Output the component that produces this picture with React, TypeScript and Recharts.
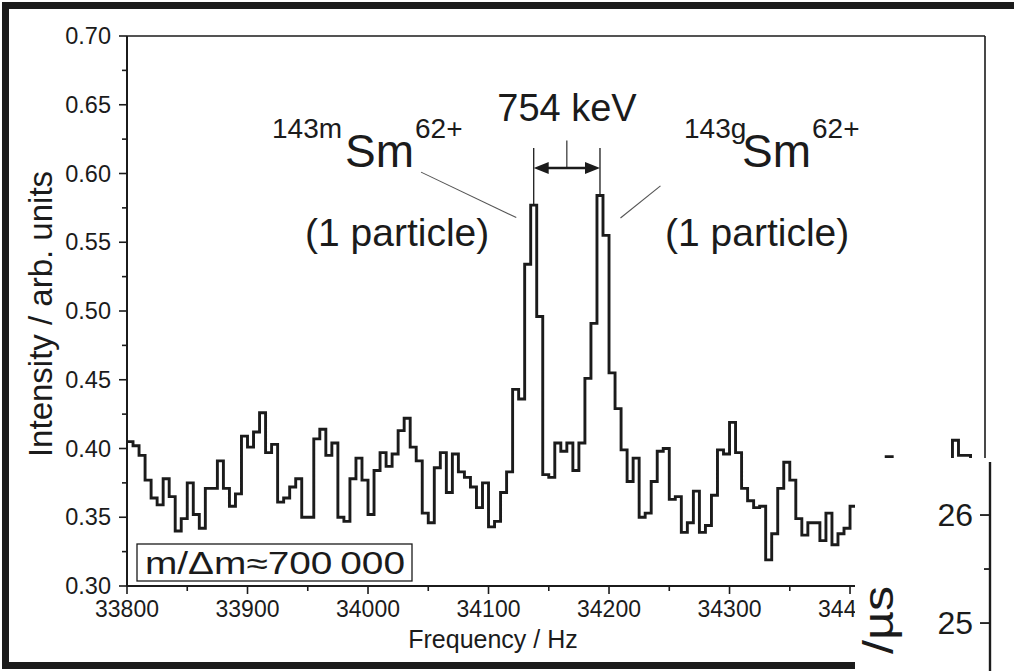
import React from 'react';
import { LineChart, Line, XAxis, YAxis, ReferenceLine } from 'recharts';

const W = 1014;
const H = 671;
const INK = '#1b1b1b';
const FONT = '"Liberation Sans", Arial, Helvetica, sans-serif';

// plot box of the main spectrum, in page pixels
const PLOT = { left: 127, top: 36, right: 985, bottom: 586 };
const Y_AXIS_W = 70;
const X_AXIS_H = 40;

// spectrum: 5 Hz bins starting at 33800 Hz
const BIN_START = 33800;
const BIN_WIDTH = 5;
const INTENSITY = [
  0.405, 0.402, 0.395, 0.377, 0.364, 0.359, 0.378, 0.365, 0.340, 0.349,
  0.375, 0.352, 0.342, 0.371, 0.371, 0.391, 0.371, 0.358, 0.367, 0.409,
  0.401, 0.412, 0.426, 0.397, 0.403, 0.361, 0.364, 0.372, 0.378, 0.350,
  0.350, 0.407, 0.414, 0.395, 0.404, 0.350, 0.347, 0.378, 0.393, 0.377,
  0.352, 0.384, 0.397, 0.387, 0.396, 0.413, 0.422, 0.401, 0.391, 0.353,
  0.346, 0.386, 0.397, 0.368, 0.396, 0.383, 0.379, 0.372, 0.357, 0.375,
  0.343, 0.347, 0.368, 0.383, 0.443, 0.436, 0.534, 0.577, 0.496, 0.381,
  0.379, 0.404, 0.398, 0.404, 0.384, 0.404, 0.451, 0.491, 0.584, 0.555,
  0.455, 0.429, 0.399, 0.376, 0.393, 0.350, 0.353, 0.376, 0.398, 0.400,
  0.363, 0.365, 0.339, 0.346, 0.369, 0.339, 0.344, 0.366, 0.399, 0.396,
  0.419, 0.397, 0.371, 0.362, 0.357, 0.358, 0.319, 0.338, 0.371, 0.390,
  0.377, 0.349, 0.337, 0.346, 0.346, 0.333, 0.353, 0.330, 0.338, 0.342,
  0.358, 0.358, 0.360, 0.350, 0.370, 0.360, 0.394, 0.370, 0.350, 0.360,
  0.380, 0.370, 0.350, 0.360, 0.340, 0.360, 0.370, 0.406, 0.395, 0.395,
  0.360, 0.350, 0.360,
];

const X_DOMAIN = [33800, 34512];
const Y_DOMAIN = [0.3, 0.7];
const X_MAJOR = [33800, 33900, 34000, 34100, 34200, 34300, 34400];
const X_MINOR = [33850, 33950, 34050, 34150, 34250, 34350, 34450];
const Y_MAJOR = [0.3, 0.35, 0.4, 0.45, 0.5, 0.55, 0.6, 0.65, 0.7];
const Y_MINOR = [0.325, 0.375, 0.425, 0.475, 0.525, 0.575, 0.625, 0.675];

// the two resolved peaks (bin starts) and the marker geometry above them
const PEAK_BINS = [34135, 34190];
const MARKER_TOP = 0.6185;
const ARROW_Y = 0.604;
const CENTER_TICK_TOP = 0.624;

// second panel, only its left axis shows
const INSET_DOMAIN = [24.556, 26.491];
const INSET_MAJOR = [25, 26];
const INSET_MINOR = [25.5];

const data = INTENSITY.map((v, i) => ({ f: BIN_START + i * BIN_WIDTH, v }));
// closing edge of the last bin so stepAfter draws it
data.push({ f: BIN_START + INTENSITY.length * BIN_WIDTH, v: INTENSITY[INTENSITY.length - 1] });

const binValue = (f: number) => INTENSITY[(f - BIN_START) / BIN_WIDTH];
const peakX = PEAK_BINS.map((b) => b + BIN_WIDTH / 2);

const XTick = (props: any) => {
  const { x, payload } = props;
  const major = X_MAJOR.includes(payload.value);
  return (
    <g>
      <line x1={x} x2={x} y1={PLOT.bottom} y2={PLOT.bottom + (major ? 8 : 5)} stroke={INK} strokeWidth={1.6} />
      {major && (
        <text x={x} y={PLOT.bottom + 31} textAnchor="middle" fontSize={23} fill={INK} fontFamily={FONT}>
          {payload.value}
        </text>
      )}
    </g>
  );
};

const YTick = (props: any) => {
  const { y, payload } = props;
  const major = Y_MAJOR.some((t) => Math.abs(t - payload.value) < 1e-6);
  return (
    <g>
      <line x1={PLOT.left - (major ? 8 : 5)} x2={PLOT.left} y1={y} y2={y} stroke={INK} strokeWidth={1.6} />
      {major && (
        <text x={PLOT.left - 16} y={y + 8} textAnchor="end" fontSize={23.5} fill={INK} fontFamily={FONT}>
          {payload.value.toFixed(2)}
        </text>
      )}
    </g>
  );
};

// horizontal double-headed arrow between the peak markers
const DoubleArrow = (props: any) => {
  const { x1, y1, x2 } = props;
  const head = 15;
  const half = 6;
  const a = Math.min(x1, x2);
  const b = Math.max(x1, x2);
  return (
    <g>
      <line x1={a + head - 2} x2={b - head + 2} y1={y1} y2={y1} stroke={INK} strokeWidth={2.4} />
      <polygon points={`${a},${y1} ${a + head},${y1 - half} ${a + head},${y1 + half}`} fill={INK} />
      <polygon points={`${b},${y1} ${b - head},${y1 - half} ${b - head},${y1 + half}`} fill={INK} />
    </g>
  );
};

const INSET = { left: 855, top: 458, width: W - 855, height: H - 458, axisX: 135, axisTop: 4 };

const InsetTick = (props: any) => {
  const { y, payload } = props;
  const major = INSET_MAJOR.includes(payload.value);
  return (
    <g>
      <line x1={INSET.axisX - (major ? 10 : 6)} x2={INSET.axisX} y1={y} y2={y} stroke={INK} strokeWidth={1.8} />
      {major && (
        <text x={INSET.axisX - 17} y={y + 11} textAnchor="end" fontSize={32} fill={INK} fontFamily={FONT}>
          {payload.value}
        </text>
      )}
    </g>
  );
};

function Isotope({ x, mass, mx, cx }: { x: number; mass: string; mx: number; cx: number }) {
  return (
    <g fill={INK} fontFamily={FONT}>
      <text x={x} y={138} fontSize={28}>{mass}</text>
      <text x={mx} y={167} fontSize={46}>Sm</text>
      <text x={cx} y={138} fontSize={28}>62+</text>
    </g>
  );
}

const bar = (left: number, top: number, width: number, height: number): React.CSSProperties => ({
  position: 'absolute', left, top, width, height, background: INK,
});

export default function App() {
  return (
    <div style={{ position: 'fixed', left: 0, top: 0, width: W, height: H, overflow: 'hidden', background: '#fff', fontFamily: FONT }}>
      <div style={{ position: 'absolute', left: 0, top: 0 }}>
        <LineChart
          width={W}
          height={H}
          data={data}
          margin={{ top: PLOT.top, right: W - PLOT.right, bottom: H - PLOT.bottom - X_AXIS_H, left: PLOT.left - Y_AXIS_W }}
        >
          <XAxis
            dataKey="f"
            type="number"
            domain={X_DOMAIN}
            allowDataOverflow
            ticks={[...X_MAJOR, ...X_MINOR]}
            interval={0}
            height={X_AXIS_H}
            tick={<XTick />}
            tickLine={false}
            axisLine={{ stroke: INK, strokeWidth: 2 }}
          />
          <YAxis
            type="number"
            domain={Y_DOMAIN}
            allowDataOverflow
            ticks={[...Y_MAJOR, ...Y_MINOR]}
            interval={0}
            width={Y_AXIS_W}
            tick={<YTick />}
            tickLine={false}
            axisLine={{ stroke: INK, strokeWidth: 2 }}
          />
          {/* closing frame: top and right edges */}
          <ReferenceLine y={Y_DOMAIN[1]} stroke={INK} strokeWidth={1.6} />
          <ReferenceLine x={X_DOMAIN[1]} stroke={INK} strokeWidth={1.6} />

          <Line type="stepAfter" dataKey="v" stroke={INK} strokeWidth={2.9} dot={false} isAnimationActive={false} />

          {peakX.map((px, i) => (
            <ReferenceLine key={`pk${i}`} segment={[{ x: px, y: binValue(PEAK_BINS[i]) }, { x: px, y: MARKER_TOP }]} stroke={INK} strokeWidth={1.3} />
          ))}
          <ReferenceLine segment={[{ x: (peakX[0] + peakX[1]) / 2, y: ARROW_Y }, { x: (peakX[0] + peakX[1]) / 2, y: CENTER_TICK_TOP }]} stroke={INK} strokeWidth={1.1} />
          <ReferenceLine segment={[{ x: peakX[0], y: ARROW_Y }, { x: peakX[1], y: ARROW_Y }]} shape={<DoubleArrow />} />
          <ReferenceLine segment={[{ x: 34044, y: 0.601 }, { x: 34123, y: 0.568 }]} stroke="#555" strokeWidth={1.1} />
          <ReferenceLine segment={[{ x: 34209.5, y: 0.5676 }, { x: 34242.7, y: 0.591 }]} stroke="#555" strokeWidth={1.1} />
        </LineChart>
      </div>

      <svg width={W} height={H} style={{ position: 'absolute', left: 0, top: 0, pointerEvents: 'none' }}>
        <text x={567} y={121} textAnchor="middle" fontSize={38} fill={INK} fontFamily={FONT}>754 keV</text>
        <Isotope x={272} mass="143m" mx={345} cx={415} />
        <Isotope x={684} mass="143g" mx={742} cx={812} />
        <text x={305} y={246} fontSize={39} fill={INK} fontFamily={FONT}>(1 particle)</text>
        <text x={665} y={246} fontSize={39} fill={INK} fontFamily={FONT}>(1 particle)</text>

        <rect x={137} y={544} width={275} height={37} fill="#fff" stroke={INK} strokeWidth={1.3} />
        <text x={145} y={574} fontSize={31} fill={INK} fontFamily={FONT} textLength={260} lengthAdjust="spacingAndGlyphs">
          m/Δm≈700{'\u2009'}000
        </text>

        <text x={52} y={314} transform="rotate(-90 52 314)" textAnchor="middle" fontSize={33} fill={INK} fontFamily={FONT}>
          Intensity / arb. units
        </text>
        <text x={493} y={648} textAnchor="middle" fontSize={25} fill={INK} fontFamily={FONT}>Frequency / Hz</text>
      </svg>

      {/* heavy outer frame of the figure */}
      <div style={bar(2, 2, W, 7)} />
      <div style={bar(2, 2, 7, H - 4)} />
      <div style={bar(2, H - 9, W, 7)} />

      {/* neighbouring panel pasted over the lower right corner */}
      <div style={{ position: 'absolute', left: INSET.left, top: INSET.top, width: INSET.width, height: INSET.height, background: '#fff' }}>
        <LineChart
          width={INSET.width}
          height={INSET.height}
          data={[]}
          margin={{ top: INSET.axisTop, right: 0, bottom: 0, left: INSET.axisX - 40 }}
        >
          <XAxis type="number" domain={[0, 1]} hide />
          <YAxis
            type="number"
            domain={INSET_DOMAIN}
            allowDataOverflow
            ticks={[...INSET_MAJOR, ...INSET_MINOR]}
            interval={0}
            width={40}
            tick={<InsetTick />}
            tickLine={false}
            axisLine={{ stroke: INK, strokeWidth: 2.4 }}
          />
          <ReferenceLine y={INSET_DOMAIN[1]} stroke={INK} strokeWidth={2} />
        </LineChart>
        <svg width={INSET.width} height={INSET.height} style={{ position: 'absolute', left: 0, top: 0 }}>
          <text x={38} y={196} transform="rotate(-90 38 196)" fontSize={42} fill={INK} fontFamily={FONT} textLength={68} lengthAdjust="spacingAndGlyphs">
            /µs
          </text>
        </svg>
      </div>
    </div>
  );
}
